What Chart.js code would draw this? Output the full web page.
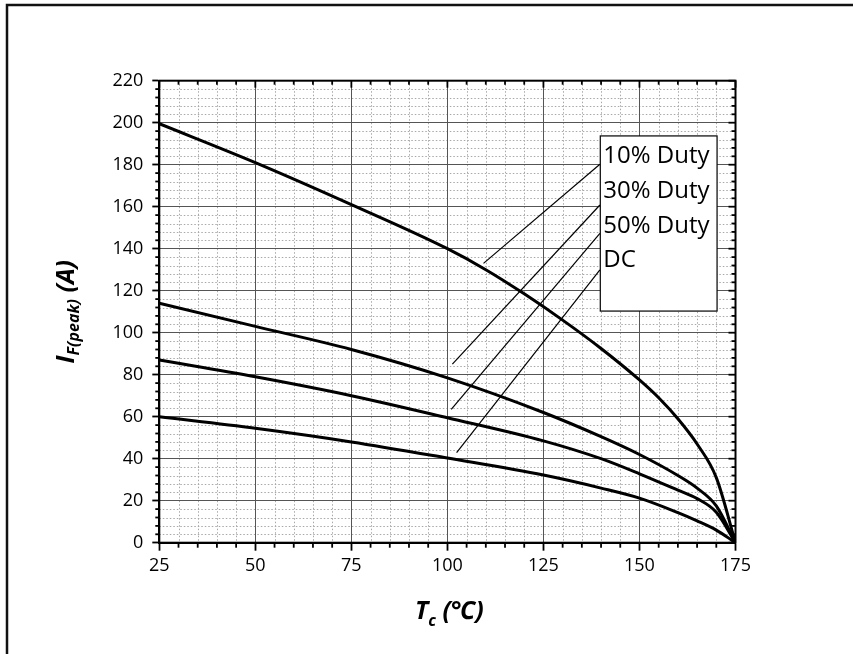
<!DOCTYPE html>
<html><head><meta charset="utf-8">
<script src="https://cdn.jsdelivr.net/npm/chart.js@4.4.1/dist/chart.umd.min.js"></script>
<style>html,body{margin:0;padding:0;background:#fff;}#wrap{width:853px;height:654px;position:relative;}</style>
</head><body><div id="wrap"><canvas id="c" width="853" height="654"></canvas></div>
<script>
// ---- data ----
const temp10 = [25, 50, 75, 100, 110, 120, 130, 140, 150, 155, 160, 165, 170, 175];
const duty10 = [199.5, 181, 161, 140, 130, 118.5, 106, 92.5, 77.5, 69, 59, 47, 31, 0];
const tempC = [25, 50, 75, 100, 125, 140, 150, 160, 165, 170, 175];
const duty30 = [114, 103, 92, 78.5, 62, 50.5, 42, 32, 26, 17.5, 0];
const duty50 = [87, 79, 70, 59.5, 48.5, 40, 32.8, 25, 21, 14.5, 0];
const dutyDC = [60, 54.5, 48, 40.3, 32.2, 26, 21.2, 14.3, 10.4, 6, 0];
const seriesLabels = ['10% Duty', '30% Duty', '50% Duty', 'DC'];
const xTicks = [25, 50, 75, 100, 125, 150, 175];
const yTicks = [0, 20, 40, 60, 80, 100, 120, 140, 160, 180, 200, 220];
const xMinorStep = 5, yMinorStep = 4;
// leader lines (data coordinates: T, I)
const leaderFromT = [139.7, 139.7, 139.7, 139.7];
const leaderFromI = [180.2, 160.8, 147.3, 129.9];
const leaderToT = [109.4, 101.3, 101, 102.4];
const leaderToI = [133, 85, 63.5, 42.9];

const FONT = "'Open Sans', 'Noto Sans', 'DejaVu Sans', sans-serif";
Chart.defaults.font.family = FONT;
Chart.defaults.color = '#000';

const pts = (xs, ys) => xs.map((x, i) => ({x, y: ys[i]}));
const curve = (label, xs, ys) => ({label, data: pts(xs, ys), showLine: true, borderColor: '#000',
  borderWidth: 3, pointRadius: 0, cubicInterpolationMode: 'monotone', fill: false});
const leaders = leaderFromT.map((t, i) => ({label: 'leader' + i,
  data: [{x: t, y: leaderFromI[i]}, {x: leaderToT[i], y: leaderToI[i]}],
  showLine: true, borderColor: '#000', borderWidth: 1.2, pointRadius: 0, fill: false}));

const decor = {
  id: 'decor',
  beforeDraw(chart) {
    const ctx = chart.ctx, a = chart.chartArea, xs = chart.scales.x, ys = chart.scales.y;
    ctx.save();
    ctx.fillStyle = '#fff'; ctx.fillRect(0, 0, chart.width, chart.height);
    // outer frame (top & left visible)
    ctx.strokeStyle = '#111'; ctx.lineWidth = 2.5;
    ctx.beginPath(); ctx.moveTo(7, chart.height + 5); ctx.lineTo(7, 5); ctx.lineTo(chart.width + 5, 5); ctx.stroke();
    // minor dotted grid
    ctx.strokeStyle = '#a8a8a8'; ctx.lineWidth = 1; ctx.setLineDash([1.5, 2]);
    for (let v = xs.min + xMinorStep; v < xs.max; v += xMinorStep) {
      if (xTicks.includes(v)) continue;
      const p = Math.round(xs.getPixelForValue(v)) + 0.5;
      ctx.beginPath(); ctx.moveTo(p, a.top); ctx.lineTo(p, a.bottom); ctx.stroke();
    }
    for (let v = ys.min + yMinorStep; v < ys.max; v += yMinorStep) {
      if (yTicks.includes(v)) continue;
      const p = Math.round(ys.getPixelForValue(v)) + 0.5;
      ctx.beginPath(); ctx.moveTo(a.left, p); ctx.lineTo(a.right, p); ctx.stroke();
    }
    ctx.restore();
  },
  afterDraw(chart) {
    const ctx = chart.ctx, a = chart.chartArea, xs = chart.scales.x, ys = chart.scales.y;
    ctx.save();
    ctx.strokeStyle = '#000'; ctx.lineWidth = 2; ctx.setLineDash([]);
    ctx.strokeRect(a.left, a.top, a.right - a.left, a.bottom - a.top);
    // ticks
    ctx.lineWidth = 1.8;
    for (let v = xs.min; v <= xs.max; v += xMinorStep) {
      const p = xs.getPixelForValue(v), major = xTicks.includes(v);
      ctx.beginPath(); ctx.moveTo(p, a.top); ctx.lineTo(p, a.top + (major ? 7 : 4)); ctx.stroke();
      if (!major) { ctx.beginPath(); ctx.moveTo(p, a.bottom); ctx.lineTo(p, a.bottom + 5); ctx.stroke(); }
    }
    for (let v = ys.min; v <= ys.max; v += yMinorStep) {
      const p = ys.getPixelForValue(v), major = yTicks.includes(v);
      ctx.beginPath(); ctx.moveTo(a.right, p); ctx.lineTo(a.right - (major ? 7 : 4), p); ctx.stroke();
      if (!major) { ctx.beginPath(); ctx.moveTo(a.left, p); ctx.lineTo(a.left - 4, p); ctx.stroke(); }
    }
    // legend box
    const lx1 = xs.getPixelForValue(139.8), lx2 = xs.getPixelForValue(170.2);
    const ly1 = ys.getPixelForValue(193.7), ly2 = ys.getPixelForValue(110.3);
    ctx.fillStyle = '#fff'; ctx.fillRect(lx1, ly1, lx2 - lx1, ly2 - ly1);
    ctx.lineWidth = 1.2; ctx.strokeStyle = '#000'; ctx.strokeRect(lx1, ly1, lx2 - lx1, ly2 - ly1);
    ctx.fillStyle = '#000'; ctx.font = "24px " + FONT; ctx.textBaseline = 'alphabetic'; ctx.textAlign = 'left';
    const baseI = [180.8, 164.1, 147.5, 131.3];
    seriesLabels.forEach((s, i) => ctx.fillText(s, lx1 + 3, ys.getPixelForValue(baseI[i])));
    // axis titles with subscripts
    const runs = (parts) => {
      let w = 0;
      parts.forEach(p => { ctx.font = p.f; p.w = ctx.measureText(p.t).width; w += p.w; });
      return w;
    };
    const drawRuns = (parts, x, y) => {
      parts.forEach(p => { ctx.font = p.f; ctx.fillText(p.t, x, y + (p.dy || 0)); x += p.w; });
    };
    const big = "italic bold 25px " + FONT, small = "italic bold 16px " + FONT;
    const xt = [{t: 'T', f: big}, {t: 'c', f: small, dy: 7}, {t: ' (℃)', f: big}];
    const wx = runs(xt);
    drawRuns(xt, (a.left + a.right) / 2 - wx / 2 + 2, 619);
    const yt = [{t: 'I', f: big}, {t: 'F(peak)', f: small, dy: 5}, {t: ' (A)', f: big}];
    const wy = runs(yt);
    ctx.translate(74, (a.top + a.bottom) / 2);
    ctx.rotate(-Math.PI / 2);
    drawRuns(yt, -wy / 2, 0);
    ctx.restore();
  }
};

new Chart(document.getElementById('c'), {
  type: 'scatter',
  data: { datasets: [
    curve(seriesLabels[0], temp10, duty10),
    curve(seriesLabels[1], tempC, duty30),
    curve(seriesLabels[2], tempC, duty50),
    curve(seriesLabels[3], tempC, dutyDC),
    ...leaders ] },
  options: {
    responsive: false, animation: false, events: [],
    layout: { padding: { left: 0, right: 117.5, top: 80.7, bottom: 0 } },
    plugins: { legend: { display: false }, tooltip: { enabled: false } },
    scales: {
      x: { type: 'linear', min: 25, max: 175,
        afterBuildTicks: s => { s.ticks = xTicks.map(v => ({value: v})); },
        afterFit: s => { s.height = 111.3; },
        grid: { color: '#555', lineWidth: 1, tickColor: '#000', tickWidth: 1.8, tickLength: 8 },
        border: { color: '#000', width: 2 },
        ticks: { font: { size: 18 }, color: '#000', padding: 4, maxRotation: 0 } },
      y: { type: 'linear', min: 0, max: 220,
        afterBuildTicks: s => { s.ticks = yTicks.map(v => ({value: v})); },
        afterFit: s => { s.width = 159.3; },
        grid: { color: '#555', lineWidth: 1, tickColor: '#000', tickWidth: 1.8, tickLength: 7 },
        border: { color: '#000', width: 2 },
        ticks: { font: { size: 18 }, color: '#000', padding: 9 } }
    }
  },
  plugins: [decor]
});
</script></body></html>
